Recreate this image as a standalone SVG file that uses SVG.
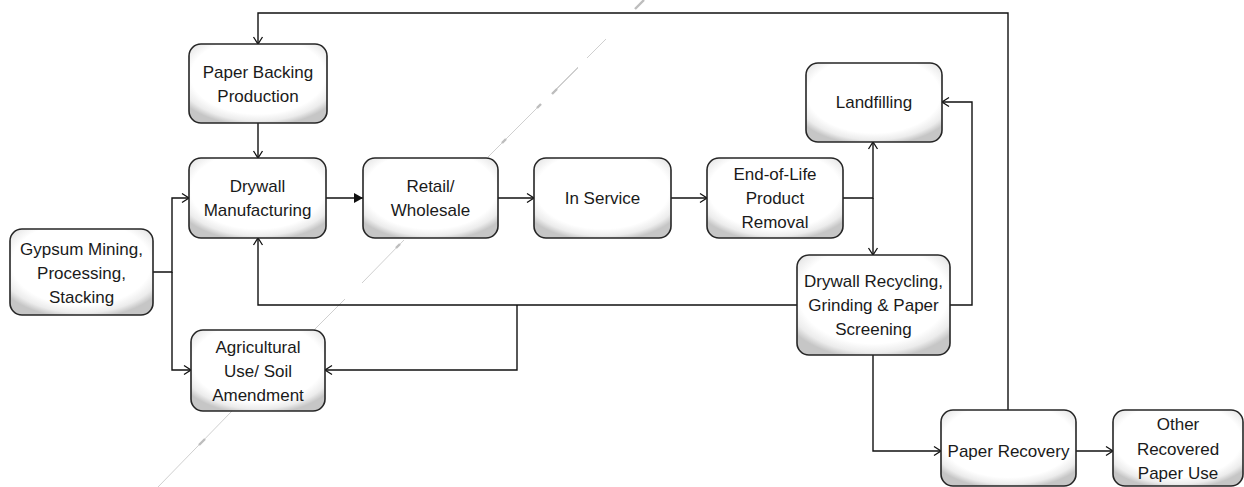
<svg xmlns="http://www.w3.org/2000/svg" width="1244" height="487" viewBox="0 0 1244 487">
  <style>
    .box { fill: url(#boxFill); stroke: #262626; stroke-width: 1.6; }
    .lbl { font-family: "Liberation Sans", Arial, sans-serif; font-size: 17px; fill: #1a1a1a; text-anchor: middle; }
    .wire { fill: none; stroke: #111; stroke-width: 1.4; }
    .open { marker-end: url(#openHead); }
    .solid { marker-end: url(#solidHead); }
    .stray { fill: none; stroke: #cfcfcf; stroke-width: 1; }
    .strayDark { fill: none; stroke: #bdbdbd; stroke-width: 2.4; }
  </style>
  <defs>
    <radialGradient id="boxFill" cx="50%" cy="40%" r="64%">
      <stop offset="0" stop-color="#ffffff"/>
      <stop offset="0.76" stop-color="#ffffff"/>
      <stop offset="0.9" stop-color="#ececec"/>
      <stop offset="1" stop-color="#c6c6c6"/>
    </radialGradient>
    <marker id="openHead" markerUnits="userSpaceOnUse" markerWidth="12" markerHeight="12" refX="8" refY="5" orient="auto" overflow="visible">
      <path d="M1,0.5 L8,5 L1,9.5" fill="none" stroke="#111" stroke-width="1.3"/>
    </marker>
    <marker id="solidHead" markerUnits="userSpaceOnUse" markerWidth="12" markerHeight="12" refX="9" refY="5" orient="auto" overflow="visible">
      <path d="M0,0 L9,5 L0,10 Z" fill="#111"/>
    </marker>
  </defs>

  <!-- faint diagonal stroke running behind the chart -->
  <g id="stray-line">
    <path class="stray" d="M158,487 L232,411"/>
    <path class="strayDark" d="M199,445 L205,439"/>
    <path class="stray" d="M313,331 L345,299"/>
    <path class="stray" d="M362,283 L404,240"/>
    <path class="strayDark" d="M396,248 L400,244"/>
    <path class="stray" d="M488,157 L540,105"/>
    <path class="strayDark" d="M502,143 L506,139"/>
    <path class="strayDark" d="M537,108 L541,104"/>
    <path class="stray" d="M552,93 L578,67"/>
    <path class="stray" d="M554,92 L578,68"/>
    <path class="strayDark" d="M552,94 L557,89"/>
    <path class="stray" d="M587,58 L606,39"/>
    <path class="strayDark" d="M635,9 L644,0"/>
  </g>

  <!-- connectors -->
  <g id="connectors">
    <path class="wire open" d="M153,272 H172 V198 H189"/>
    <path class="wire open" d="M172,272 V370 H191"/>
    <path class="wire open" d="M258,123 V158"/>
    <path class="wire solid" d="M326,198 H363"/>
    <path class="wire open" d="M498,198 H534"/>
    <path class="wire open" d="M671,198 H707"/>
    <path class="wire open" d="M843,198 H873 V142"/>
    <path class="wire open" d="M873,198 V255"/>
    <path class="wire open" d="M950,305 H972 V102 H942"/>
    <path class="wire open" d="M797,305 H258 V238"/>
    <path class="wire open" d="M517,305 V370 H325"/>
    <path class="wire open" d="M873,355 V451 H941"/>
    <path class="wire open" d="M1076,451 H1113"/>
    <path class="wire open" d="M1008,410 V13 H258 V44"/>
  </g>

  <g id="paper-backing">
    <rect class="box" x="189" y="44" width="138" height="79" rx="12"/>
    <text class="lbl" x="258" y="78">Paper Backing</text>
    <text class="lbl" x="258" y="102">Production</text>
  </g>

  <g id="gypsum-mining">
    <rect class="box" x="10" y="229" width="143" height="86" rx="12"/>
    <text class="lbl" x="81.5" y="255">Gypsum Mining,</text>
    <text class="lbl" x="81.5" y="279">Processing,</text>
    <text class="lbl" x="81.5" y="303">Stacking</text>
  </g>

  <g id="drywall-manufacturing">
    <rect class="box" x="189" y="158" width="137" height="80" rx="12"/>
    <text class="lbl" x="257.5" y="192">Drywall</text>
    <text class="lbl" x="257.5" y="216">Manufacturing</text>
  </g>

  <g id="retail-wholesale">
    <rect class="box" x="363" y="158" width="135" height="80" rx="12"/>
    <text class="lbl" x="430.5" y="192">Retail/</text>
    <text class="lbl" x="430.5" y="216">Wholesale</text>
  </g>

  <g id="in-service">
    <rect class="box" x="534" y="158" width="137" height="80" rx="12"/>
    <text class="lbl" x="602.5" y="204">In Service</text>
  </g>

  <g id="end-of-life">
    <rect class="box" x="707" y="158" width="136" height="80" rx="12"/>
    <text class="lbl" x="775" y="180">End-of-Life</text>
    <text class="lbl" x="775" y="204">Product</text>
    <text class="lbl" x="775" y="228">Removal</text>
  </g>

  <g id="landfilling">
    <rect class="box" x="806" y="63" width="136" height="79" rx="12"/>
    <text class="lbl" x="874" y="108">Landfilling</text>
  </g>

  <g id="drywall-recycling">
    <rect class="box" x="797" y="255" width="153" height="100" rx="12"/>
    <text class="lbl" x="873.5" y="287">Drywall Recycling,</text>
    <text class="lbl" x="873.5" y="311">Grinding &amp; Paper</text>
    <text class="lbl" x="873.5" y="335">Screening</text>
  </g>

  <g id="agricultural-use">
    <rect class="box" x="191" y="330" width="134" height="81" rx="12"/>
    <text class="lbl" x="258" y="353">Agricultural</text>
    <text class="lbl" x="258" y="377">Use/ Soil</text>
    <text class="lbl" x="258" y="401">Amendment</text>
  </g>

  <g id="paper-recovery">
    <rect class="box" x="941" y="410" width="135" height="76" rx="12"/>
    <text class="lbl" x="1008.5" y="457">Paper Recovery</text>
  </g>

  <g id="other-recovered-paper-use">
    <rect class="box" x="1113" y="410" width="130" height="76" rx="12"/>
    <text class="lbl" x="1178" y="430">Other</text>
    <text class="lbl" x="1178" y="455">Recovered</text>
    <text class="lbl" x="1178" y="479">Paper Use</text>
  </g>
</svg>
